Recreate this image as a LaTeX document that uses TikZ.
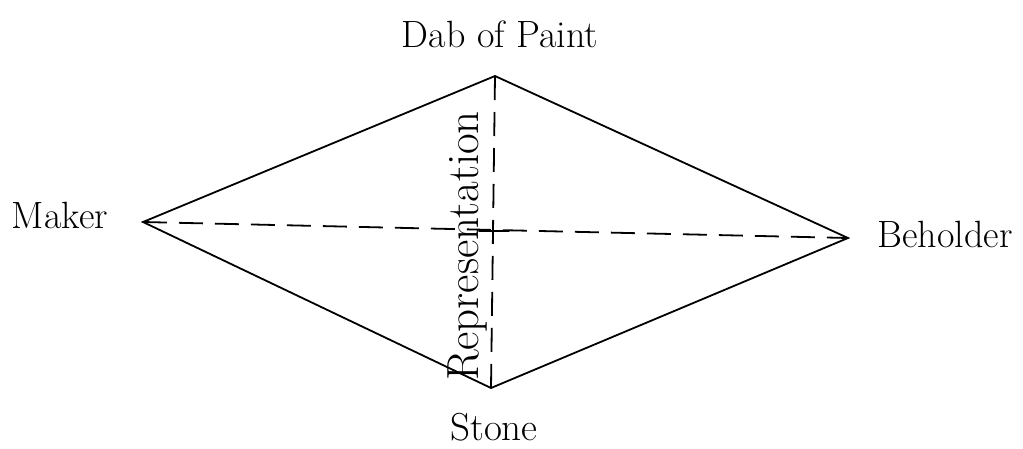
\documentclass[tikz,border=0pt]{standalone}
\usepackage{fontspec}
\usetikzlibrary{calc}
\begin{document}
\begin{tikzpicture}[x={(1pt,0)},y={(0,-1pt)},
  edge/.style={line width=1.8pt,line cap=round,line join=miter},
  dashline/.style={line width=1.8pt,dash pattern=on 24pt off 12pt},
  lbl/.style={inner sep=0pt,font=\fontsize{38}{40}\selectfont}]
\useasboundingbox (0,0) rectangle (1023,448);
\coordinate (M) at (143,222);
\coordinate (B) at (848,238);
\coordinate (P) at (495,76);
\coordinate (S) at (491,388);
\coordinate (X) at (493,231);
\draw[edge] (M) -- (P) -- (B) -- (S) -- cycle;
\draw[dashline] (M) -- (B);
\draw[dashline] (P) -- (S);
\coordinate (XL) at ($(X)+(-14,0)$);
\coordinate (XR) at ($(X)+(16,0)$);
\draw[edge] (XL) -- (XR);
\node[lbl,anchor=base] (pt) at (500,47) {Dab of Paint};
\node[lbl,anchor=base] (mk) at (60,228) {Maker};
\node[lbl,anchor=base] (bh) at (945,247) {Beholder};
\node[lbl,anchor=base,font=\fontsize{39}{41}\selectfont] (st) at (494,440) {Stone};
\node[lbl,anchor=base,rotate=90,font=\fontsize{45}{47}\selectfont] (rp) at (478,246) {Representation};
\end{tikzpicture}
\end{document}
